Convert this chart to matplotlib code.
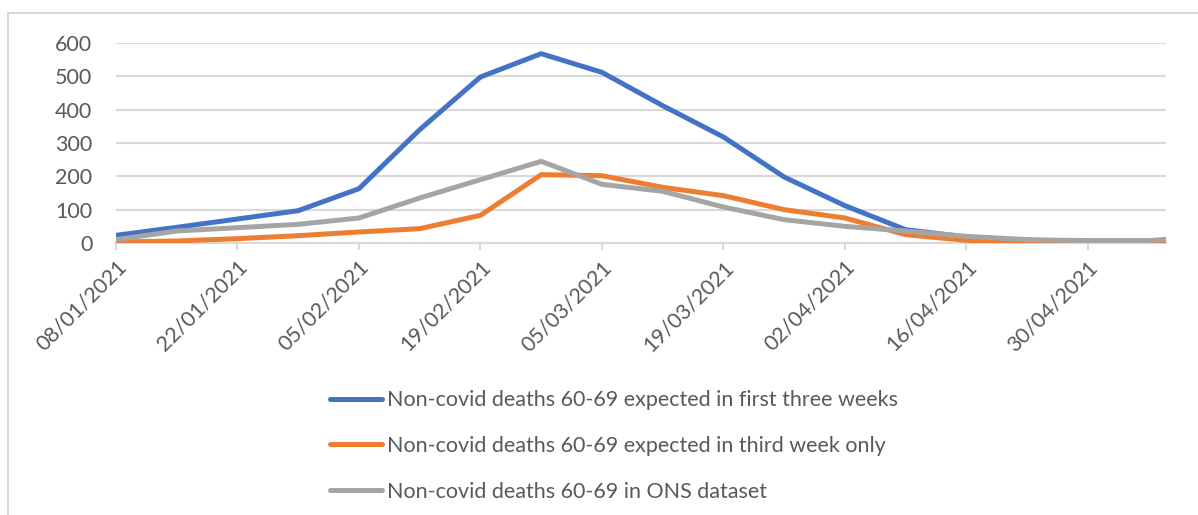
#!/usr/bin/env python
# coding: utf-8
"""
Non-covid deaths 60-69: expected vs ONS dataset, weekly.
"""
import numpy as np
import pandas as pd
import matplotlib
matplotlib.use('Agg')
from matplotlib import pyplot as plt
import matplotlib.dates as mdates
from matplotlib.lines import Line2D

plt.rcParams['font.family'] = ['Lato', 'DejaVu Sans']

# weekly dates (last point at the axis end)
DATES = ['08/01/2021', '15/01/2021', '22/01/2021', '29/01/2021', '05/02/2021',
         '12/02/2021', '19/02/2021', '26/02/2021', '05/03/2021', '12/03/2021',
         '19/03/2021', '26/03/2021', '02/04/2021', '09/04/2021', '16/04/2021',
         '23/04/2021', '30/04/2021', '07/05/2021', '09/05/2021']

first_three = [23, 47, 72, 97, 163, 340, 498, 568, 512, 412, 318, 198,
               112, 40, 18, 8, 6, 6, 6]
third_only = [3, 6, 13, 22, 33, 43, 83, 205, 202, 167, 142, 100,
              75, 25, 8, 3, 2, 2, 2]
ons = [10, 36, 46, 56, 75, 135, 190, 245, 176, 155, 108, 70,
       50, 36, 20, 10, 7, 7, 11]

LABELS = ['Non-covid deaths 60-69 expected in first three weeks',
          'Non-covid deaths 60-69 expected in third week only',
          'Non-covid deaths 60-69 in ONS dataset']
COLORS = ['#4472C4', '#ED7D31', '#A5A5A5']

GRID = '#D9D9D9'
TEXT = '#595959'
FS = 15.5


def main():
    x = pd.to_datetime(DATES, format='%d/%m/%Y')
    fig = plt.figure(figsize=(11.98, 5.15), dpi=100)
    ax = fig.add_axes([116 / 1198, 1 - 243 / 515, 1050 / 1198, 200 / 515])

    for ys, lab, col in zip([first_three, third_only, ons], LABELS, COLORS):
        ax.plot(x, ys, color=col, lw=3.6, label=lab, solid_capstyle='round',
                solid_joinstyle='round', zorder=3)

    ax.set_ylim(0, 600)
    ax.set_yticks(np.arange(0, 601, 100))
    ax.set_xlim(x[0], x[-1])
    ticks = pd.date_range(x[0], x[-1], freq='14D')
    ax.set_xticks(ticks)
    ax.xaxis.set_major_formatter(mdates.DateFormatter('%d/%m/%Y'))

    ax.grid(axis='y', color=GRID, lw=1.5, zorder=0)
    ax.set_axisbelow(True)
    for s in ['top', 'right', 'left']:
        ax.spines[s].set_visible(False)
    ax.spines['bottom'].set_color(GRID)
    ax.spines['bottom'].set_linewidth(1.5)

    ax.tick_params(axis='y', length=0, pad=17, labelsize=FS, labelcolor=TEXT)
    ax.tick_params(axis='x', length=5, width=1.5, color=GRID, pad=5,
                   labelsize=FS, labelcolor=TEXT)
    for lbl in ax.get_xticklabels():
        lbl.set_rotation(45)
        lbl.set_ha('right')
        lbl.set_va('top')
        lbl.set_rotation_mode('anchor')

    fig.legend(loc='center', bbox_to_anchor=(614 / 1198, 1 - 446 / 515),
               frameon=False, fontsize=FS, labelcolor=TEXT, handlelength=2.45,
               handletextpad=0.23, labelspacing=1.2)

    # chart area border (left and top edges visible)
    fig.add_artist(Line2D([8 / 1198, 8 / 1198], [0, 1 - 13 / 515],
                          transform=fig.transFigure, color=GRID, lw=1.5))
    fig.add_artist(Line2D([8 / 1198, 1], [1 - 13 / 515, 1 - 13 / 515],
                          transform=fig.transFigure, color=GRID, lw=1.5))

    fig.savefig('out.png', dpi=100)


if __name__ == '__main__':
    main()
